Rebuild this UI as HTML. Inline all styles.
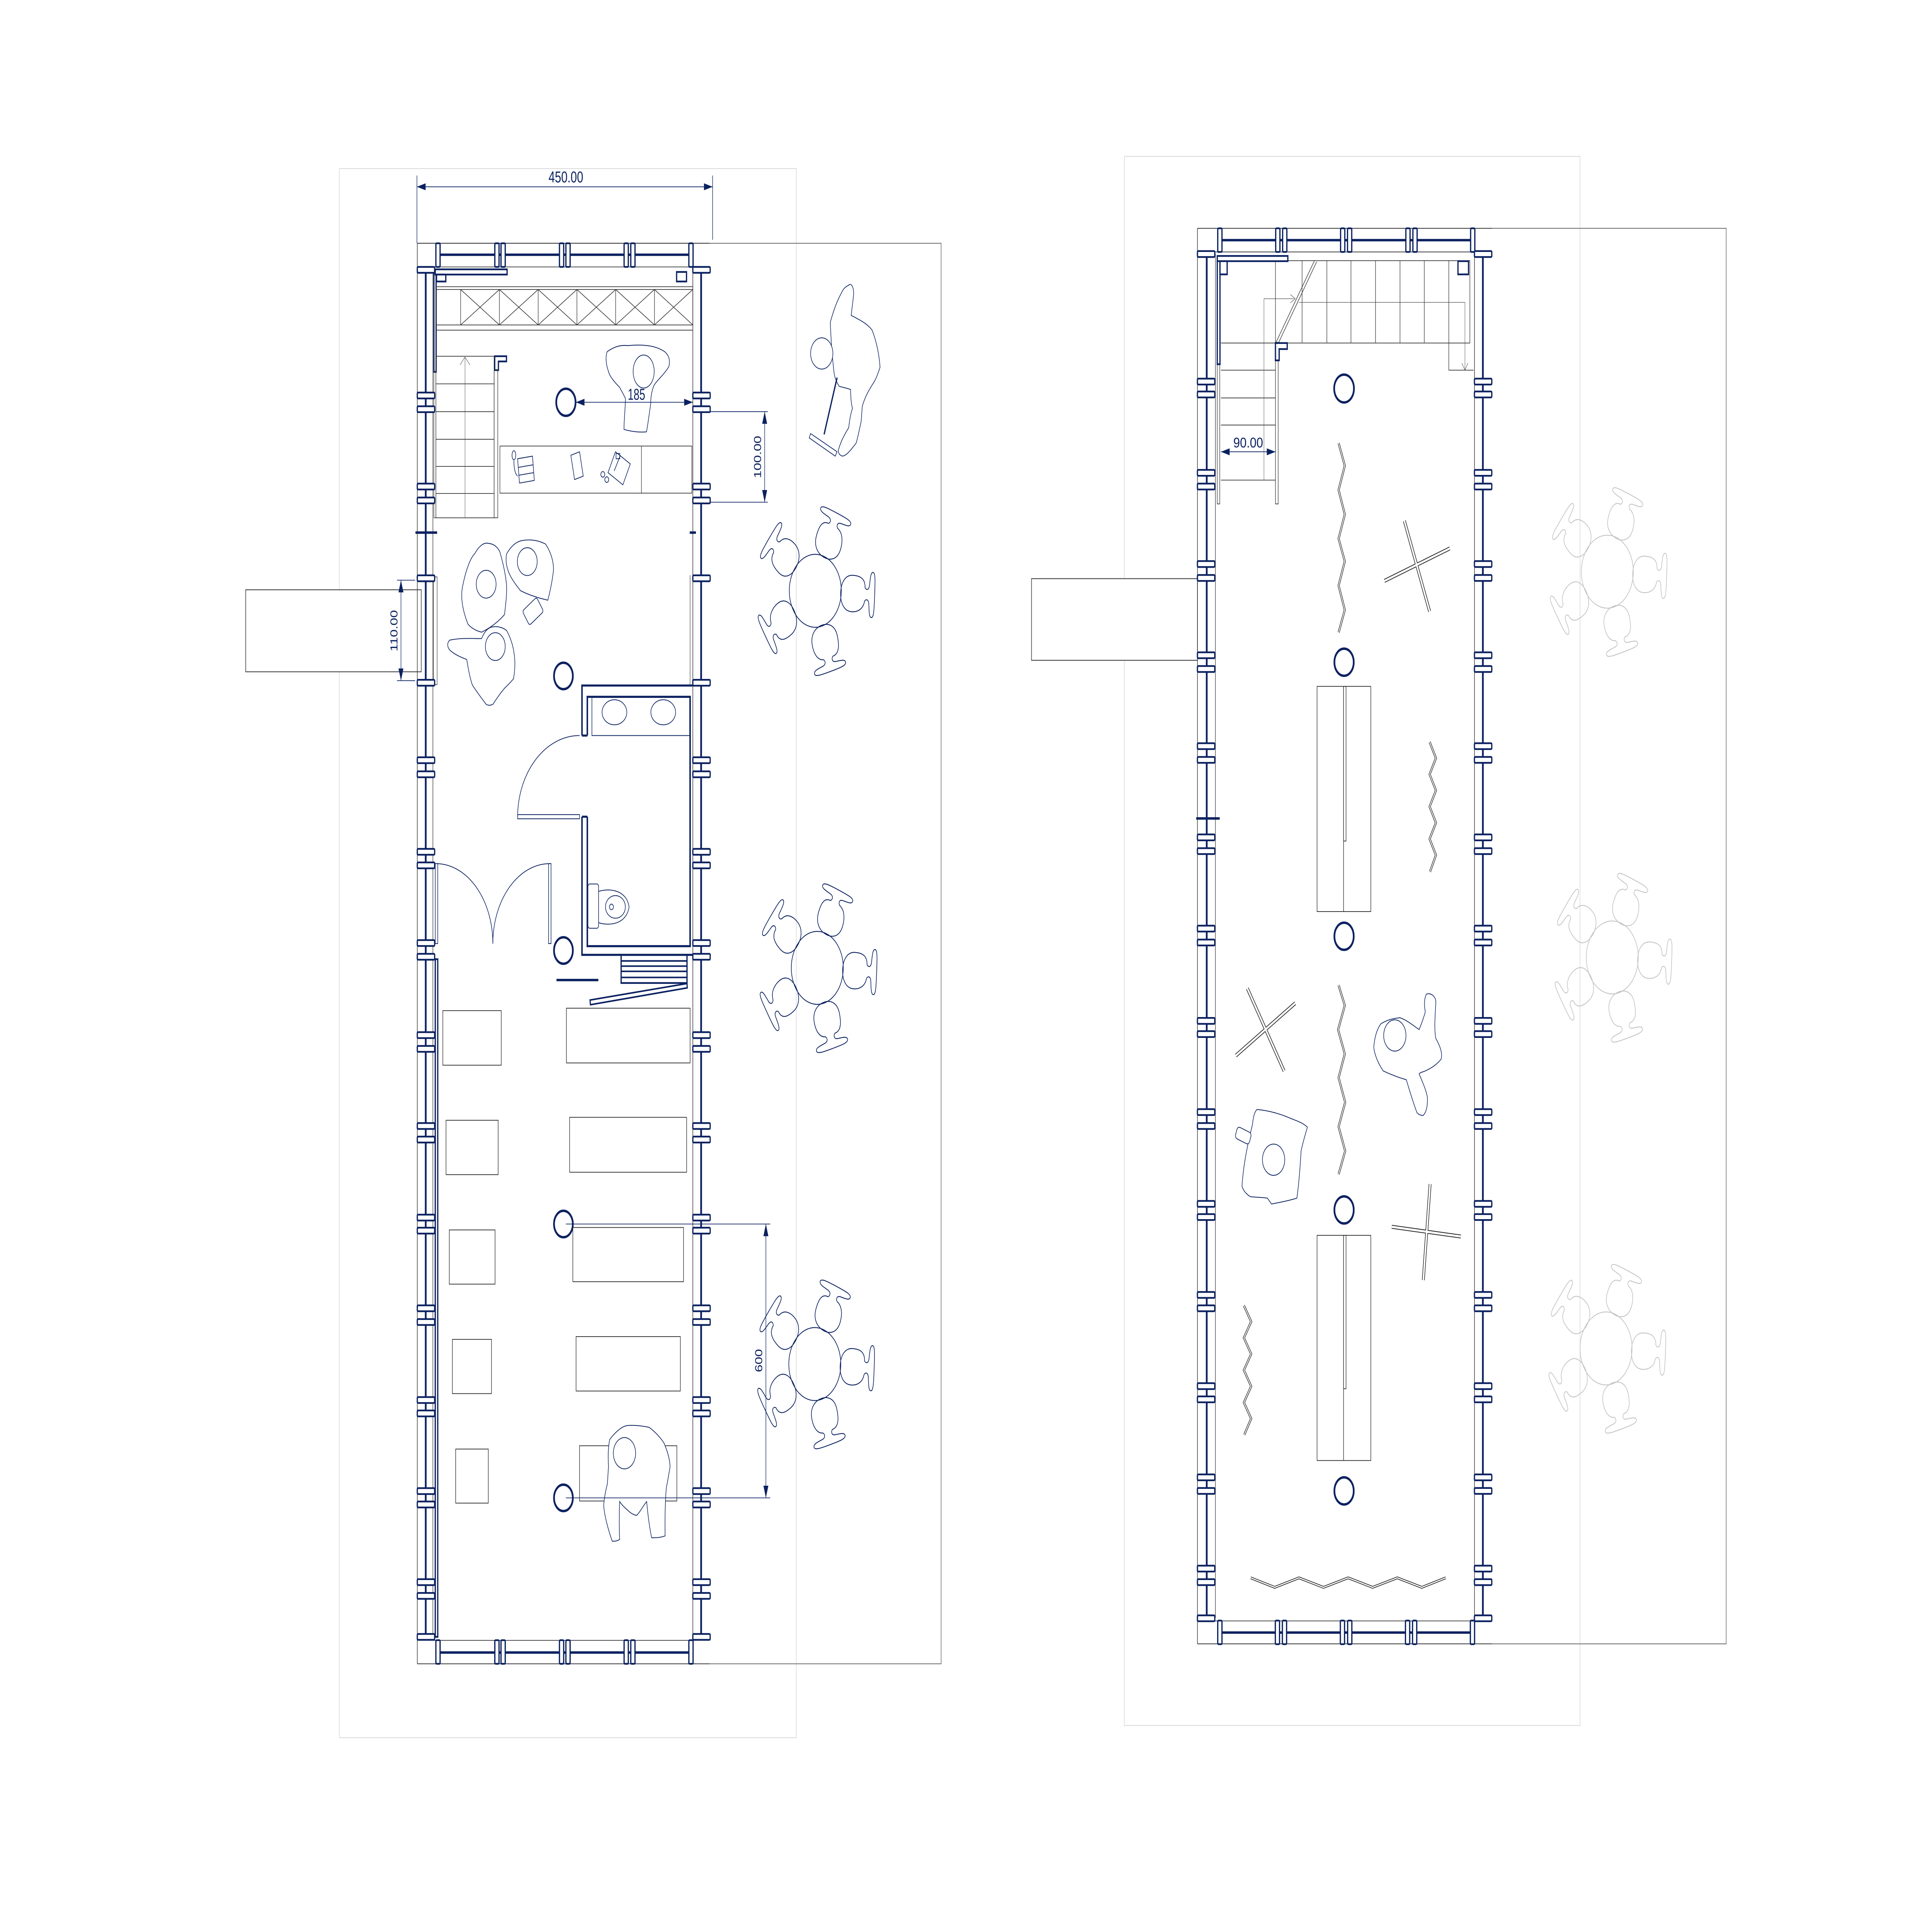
<!DOCTYPE html>
<html><head><meta charset="utf-8"><style>html,body{margin:0;padding:0;background:#fff;width:100%;height:100%;overflow:hidden}svg{display:block;position:absolute;left:0;top:0;width:100vw;height:100vh}</style></head><body>
<svg xmlns="http://www.w3.org/2000/svg" xmlns:xlink="http://www.w3.org/1999/xlink" viewBox="0 0 1560.2 1103.2" preserveAspectRatio="none">
<defs>
<rect id="hp" x="0" y="-1.7" width="14" height="3.4" rx="0.6" fill="#fff" stroke="#0b2160" stroke-width="1"/>
<rect id="vp" x="0" y="0" width="3.4" height="13.6" rx="0.6" fill="#fff" stroke="#0b2160" stroke-width="1"/>
<g id="chair" fill="none">
<path d="M-4,-9 C-10,-9 -10.5,-3 -10.5,1 C-10.5,8 -5,10.5 0,10.5 C5,10.5 10.5,8 10.5,1 C10.5,-3 9,-8 4,-9 C2.5,-10 2.5,-12 5,-12.5 C9,-13 13,-13 13,-15 C13,-17 8,-17 0,-17 C-8,-17 -13,-17 -13,-15 C-13,-13 -9,-13 -5,-12.5 C-2.5,-12 -2.5,-10 -4,-9 Z"/>
</g>
<g id="chairset" fill="none">
<circle cx="0" cy="0" r="21"/>
<use xlink:href="#chair" transform="rotate(21) translate(0,-31)"/>
<use xlink:href="#chair" transform="rotate(93) translate(0,-31)"/>
<use xlink:href="#chair" transform="rotate(165) translate(0,-31)"/>
<use xlink:href="#chair" transform="rotate(237) translate(0,-31)"/>
<use xlink:href="#chair" transform="rotate(309) translate(0,-31)"/>
</g>
</defs>
<rect width="1560.2" height="1103.2" fill="#fff"/>

<g fill="none">
<rect x="274" y="97" width="369" height="903" stroke="#dcdcdc" stroke-width="0.5"/>
<polyline points="573,140 760,140 760,957.5 573,957.5" stroke="#777" stroke-width="0.5"/>
<rect x="198.4" y="339.4" width="141.8" height="47.2" stroke="#444" stroke-width="0.5" fill="#fff"/>
</g>
<g fill="none">
<line x1="337" y1="140" x2="573" y2="140" stroke="#333" stroke-width="0.45"/>
<line x1="337" y1="140" x2="337" y2="957.5" stroke="#333" stroke-width="0.45"/>
<line x1="337" y1="957.5" x2="573" y2="957.5" stroke="#333" stroke-width="0.45"/>
<line x1="352" y1="146.6" x2="558" y2="146.6" stroke="#0b2160" stroke-width="1.4"/>
<line x1="352" y1="951" x2="558" y2="951" stroke="#0b2160" stroke-width="1.4"/>
<line x1="337" y1="153.6" x2="573" y2="153.6" stroke="#333" stroke-width="0.4"/>
<line x1="337" y1="944" x2="573" y2="944" stroke="#333" stroke-width="0.4"/>
<line x1="343.8" y1="155" x2="343.8" y2="942" stroke="#0b2160" stroke-width="1.4"/>
<line x1="349.6" y1="155" x2="349.6" y2="942" stroke="#333" stroke-width="0.4"/>
<line x1="559.5" y1="155" x2="559.5" y2="942" stroke="#333" stroke-width="0.45"/>
<line x1="566.2" y1="155" x2="566.2" y2="942" stroke="#0b2160" stroke-width="1.4"/>
<rect x="350.4" y="157" width="1.8" height="57" stroke="#0b2160" stroke-width="1"/>
<rect x="350.4" y="214" width="1.6" height="84" stroke="#333" stroke-width="0.35"/>
<rect x="351.5" y="552" width="2" height="390" stroke="#0b2160" stroke-width="1"/>
<rect x="350" y="332" width="3" height="62" stroke="#333" stroke-width="0.35"/>
<line x1="557.3" y1="331" x2="557.3" y2="394" stroke="#333" stroke-width="0.35"/>
<line x1="335.5" y1="306.5" x2="353" y2="306.5" stroke="#0b2160" stroke-width="1.4"/>
<line x1="557" y1="306.5" x2="562" y2="306.5" stroke="#0b2160" stroke-width="1.4"/>
</g>
<g>
<use xlink:href="#vp" x="352" y="140"/><use xlink:href="#vp" x="399.6" y="140"/><use xlink:href="#vp" x="404.6" y="140"/><use xlink:href="#vp" x="451.8" y="140"/><use xlink:href="#vp" x="457" y="140"/><use xlink:href="#vp" x="504" y="140"/><use xlink:href="#vp" x="509.4" y="140"/><use xlink:href="#vp" x="556.3" y="140"/>
<use xlink:href="#vp" x="352" y="943.9"/><use xlink:href="#vp" x="399.6" y="943.9"/><use xlink:href="#vp" x="404.6" y="943.9"/><use xlink:href="#vp" x="451.8" y="943.9"/><use xlink:href="#vp" x="457" y="943.9"/><use xlink:href="#vp" x="504" y="943.9"/><use xlink:href="#vp" x="509.4" y="943.9"/><use xlink:href="#vp" x="556.3" y="943.9"/>
</g>
<g>
<use xlink:href="#hp" x="337" y="155.3"/><use xlink:href="#hp" x="559.5" y="155.3"/>
<use xlink:href="#hp" x="337" y="942"/><use xlink:href="#hp" x="559.5" y="942"/>
<use xlink:href="#hp" x="337" y="227.6"/><use xlink:href="#hp" x="337" y="235.5"/><use xlink:href="#hp" x="337" y="280"/><use xlink:href="#hp" x="337" y="288"/><use xlink:href="#hp" x="337" y="332.8"/><use xlink:href="#hp" x="337" y="392.9"/><use xlink:href="#hp" x="337" y="437.5"/><use xlink:href="#hp" x="337" y="445.6"/><use xlink:href="#hp" x="337" y="490.2"/><use xlink:href="#hp" x="337" y="498"/><use xlink:href="#hp" x="337" y="542.7"/><use xlink:href="#hp" x="337" y="550.6"/><use xlink:href="#hp" x="337" y="595.7"/><use xlink:href="#hp" x="337" y="603.6"/><use xlink:href="#hp" x="337" y="648"/><use xlink:href="#hp" x="337" y="655.8"/><use xlink:href="#hp" x="337" y="700.7"/><use xlink:href="#hp" x="337" y="708.2"/><use xlink:href="#hp" x="337" y="752.9"/><use xlink:href="#hp" x="337" y="760.8"/><use xlink:href="#hp" x="337" y="805.7"/><use xlink:href="#hp" x="337" y="813.4"/><use xlink:href="#hp" x="337" y="858.1"/><use xlink:href="#hp" x="337" y="865.8"/><use xlink:href="#hp" x="337" y="910.5"/><use xlink:href="#hp" x="337" y="918.4"/>
<use xlink:href="#hp" x="559.5" y="227.6"/><use xlink:href="#hp" x="559.5" y="235.5"/><use xlink:href="#hp" x="559.5" y="280"/><use xlink:href="#hp" x="559.5" y="288"/><use xlink:href="#hp" x="559.5" y="332.8"/><use xlink:href="#hp" x="559.5" y="392.9"/><use xlink:href="#hp" x="559.5" y="437.5"/><use xlink:href="#hp" x="559.5" y="445.6"/><use xlink:href="#hp" x="559.5" y="490.2"/><use xlink:href="#hp" x="559.5" y="498"/><use xlink:href="#hp" x="559.5" y="542.7"/><use xlink:href="#hp" x="559.5" y="550.6"/><use xlink:href="#hp" x="559.5" y="595.7"/><use xlink:href="#hp" x="559.5" y="603.6"/><use xlink:href="#hp" x="559.5" y="648"/><use xlink:href="#hp" x="559.5" y="655.8"/><use xlink:href="#hp" x="559.5" y="700.7"/><use xlink:href="#hp" x="559.5" y="708.2"/><use xlink:href="#hp" x="559.5" y="752.9"/><use xlink:href="#hp" x="559.5" y="760.8"/><use xlink:href="#hp" x="559.5" y="805.7"/><use xlink:href="#hp" x="559.5" y="813.4"/><use xlink:href="#hp" x="559.5" y="858.1"/><use xlink:href="#hp" x="559.5" y="865.8"/><use xlink:href="#hp" x="559.5" y="910.5"/><use xlink:href="#hp" x="559.5" y="918.4"/>
</g>
<g fill="#fff" stroke="#0b2160" stroke-width="1">
<rect x="351.5" y="155" width="58" height="3"/>
<rect x="352.5" y="158" width="7.5" height="4"/>
<rect x="546.4" y="156.5" width="8" height="5.5"/>
<path d="M399.5,205 h9.5 v3 h-6.5 v5 h-3 z"/>
</g>
<g fill="none" stroke="#333" stroke-width="0.4">
<line x1="352" y1="165" x2="559.5" y2="165"/>
<rect x="352" y="166.6" width="207.5" height="20.4"/>
<line x1="352" y1="190" x2="559.5" y2="190"/>
<path d="M372,166.6 V187 M403.3,166.6 V187 M434.6,166.6 V187 M465.9,166.6 V187 M497.2,166.6 V187 M528.5,166.6 V187"/>
<path d="M372,166.6 L403.3,187 M372,187 L403.3,166.6 M403.3,166.6 L434.6,187 M403.3,187 L434.6,166.6 M434.6,166.6 L465.9,187 M434.6,187 L465.9,166.6 M465.9,166.6 L497.2,187 M465.9,187 L497.2,166.6 M497.2,166.6 L528.5,187 M497.2,187 L528.5,166.6 M528.5,166.6 L559.5,187 M528.5,187 L559.5,166.6"/>
<rect x="352" y="205" width="47" height="93"/>
<path d="M352,220.9 H399 M352,236.9 H399 M352,252.8 H399 M352,268.4 H399 M352,284 H399"/>
<line x1="375.5" y1="205.5" x2="375.5" y2="298" stroke-width="0.25"/>
<path d="M371.5,210 L375.5,205.5 L379.5,210" stroke-width="0.25"/>
<rect x="399" y="213" width="3" height="85"/>
<rect x="403.7" y="256.7" width="155" height="27.1"/>
<line x1="518" y1="256.7" x2="518" y2="283.8"/>
</g>
<g fill="none" stroke="#0b2160" stroke-width="0.45">
<path d="M418,264 l12,-1.5 1.5,14 -12,1.5 z M418.5,269 l12,-1.5 M419,273.5 l12,-1.5"/>
<ellipse cx="415" cy="262" rx="1.5" ry="2.6"/>
<path d="M415,265 q0,7 3,9"/>
<path d="M461,262 l7,-2 3,14 -7,2 z"/>
<path d="M491,272 l6,-12 12,7 -6,12 z M496,271 l5,-9"/>
<rect x="497.5" y="261" width="3" height="3"/>
<circle cx="486.8" cy="273" r="1.6"/><circle cx="490" cy="276" r="1.6"/>
</g>
<g fill="none" stroke="#0b2160" stroke-width="1.4">
<circle cx="457" cy="231.5" r="7.8"/>
<circle cx="455" cy="389" r="7.6"/>
<circle cx="455" cy="547" r="7.6"/>
<circle cx="455" cy="704.4" r="7.6"/>
<circle cx="455" cy="862" r="7.6"/>
</g>
<g fill="none" stroke="#0b2160" stroke-width="1.2">
<path d="M470,423.3 V394.5 H559.5"/>
<path d="M470,470 V549.5 H559.5"/>
<path d="M474.3,423.3 V401 H557.3 V544.5 H474.3 V470"/>
<path d="M470,423.3 h4.3 M470,470 h4.3"/>
</g>
<g fill="none" stroke="#0b2160" stroke-width="0.45">
<rect x="478" y="401" width="79" height="22.3"/>
<ellipse cx="496.2" cy="409.9" rx="10" ry="7.2"/>
<ellipse cx="535.6" cy="409.9" rx="10" ry="7.2"/>
<path d="M418,470 A50,47 0 0 1 468,423.3"/>
<rect x="418" y="468.8" width="50" height="2.4"/>
<rect x="474.8" y="508.7" width="8.6" height="25.5" rx="1.5"/>
<path d="M483.4,513 C492,511 506,512 508,521.9 C506,532 492,533 483.4,531"/>
<ellipse cx="497" cy="521.9" rx="8" ry="6.5"/>
<circle cx="493.8" cy="521.9" r="1.6"/>
<rect x="351.5" y="497" width="2" height="46"/>
<rect x="443" y="497" width="2" height="46"/>
<path d="M352,497 A46,46 0 0 1 398,543"/>
<path d="M444,497 A46,46 0 0 0 398,543"/>
</g>
<g fill="none" stroke="#0b2160">
<rect x="501.6" y="549.5" width="53.2" height="16.2" stroke-width="1"/>
<path d="M501.6,553 H554.8 M501.6,556 H554.8 M501.6,559 H554.8 M501.6,562.5 H554.8" stroke-width="0.9"/>
<path d="M476.5,575.5 L554.8,566 L555,568.5 L476.8,578.2 Z" stroke-width="0.9"/>
<line x1="449.4" y1="564" x2="483.2" y2="564" stroke-width="1.4"/>
</g>
<g fill="none" stroke="#222" stroke-width="0.4">
<rect x="357.6" y="581.6" width="47.2" height="31.4"/>
<rect x="360.2" y="644.7" width="42.1" height="31.3"/>
<rect x="362.8" y="707.8" width="37" height="31.2"/>
<rect x="365.3" y="770.8" width="31.6" height="31.2"/>
<rect x="368" y="833.9" width="26.3" height="31.1"/>
<rect x="457.4" y="580.2" width="99.9" height="31.5"/>
<rect x="460" y="643" width="94.5" height="31.6"/>
<rect x="462.6" y="706.4" width="89.4" height="31.2"/>
<rect x="465.2" y="769.2" width="84.2" height="31.3"/>
<rect x="468" y="832" width="78.6" height="31.8"/>
</g>
<g fill="#fff" stroke="#0b2160" stroke-width="0.45">
<path d="M490.3,202.4 C497,199 502,198.5 507.3,198.9 C520,198 530,199 536.8,202.4 C541,205 541,208 540.2,210.9 C536,216 530,219 527.8,222.3 C526,226 525.5,229 525.5,232.2 C524,240 523,245 522.1,248.5 C515,249 508,248 503.9,247.1 C504,240 505,235 505.1,229.4 C503,226 501,224 500.5,223 C495,219 492,216 491.4,213.8 C489,209 489,205 490.3,202.4 Z"/>
<ellipse cx="519.8" cy="213.8" rx="8.5" ry="9.5"/>
<path d="M373.2,338.9 C376,328 380,321 383.4,318.6 C387,314 391,312 394.4,312.7 C399,313 402,315 403.7,317.7 C407,326 409,333 409.2,338.9 C409,345 408,350 407.4,353.7 C401,359 394,362 388.9,363.8 C384,363 380,361 377.9,359.2 C374,352 372,345 373.2,338.9 Z"/>
<circle cx="392.6" cy="336.2" r="8"/>
<path d="M409.2,318.6 C413,314 417,312 420.3,311.3 C428,310 435,311 440.6,313.1 C445,318 447,323 447,327.9 C446,335 444,341 442.4,345.4 C434,344 426,342 420.3,339.9 C416,336 413,333 411,329.7 C409,326 408,322 409.2,318.6 Z"/>
<circle cx="425.8" cy="323.2" r="8"/>
<rect x="423.4" y="346.8" width="14" height="10" rx="1.5" transform="rotate(-35 430.4 351.8)"/>
<path d="M363.1,368.4 C372,367 381,367.5 388.9,367.5 C391,364 393,362 396.3,361 C401,360 406,361 409.2,362.9 C413,368 415,373 415.7,379.5 C416,384 415.5,387 414.7,390.6 C412,393 409,395 407.4,396.1 C404,399 401,402 398.1,405.3 C396,406 394,406 392.6,405.3 C388,401 384,397 381.5,394.3 C379,389 378,384 376.9,379.5 C371,378 366,376 363.1,374 C361,372 361,370 363.1,368.4 Z"/>
<circle cx="400" cy="372.1" r="8"/>
<path d="M492.4,828.4 C497,824 502,821 506.3,820.4 C512,820 518,820.5 524.2,821.4 C529,824 533,827 536.1,830.3 C539,835 541,840 541.1,844.2 C540,849 539,853 538.1,856.2 C537,865 537,875 537.1,883.9 C533,885 529,885 526.2,884.9 C524,877 523,870 522.2,864.1 C519,867 517,870 514.3,872 C512,872 510,871 508.3,870 C505,868 502,866 500.4,864.1 C500,871 500,879 500.4,885.9 C498,887 496,887 494.4,886.9 C491,880 488,872 487.5,866.1 C488,862 489,858 490.4,854.2 C491,850 491,847 491.4,844.2 C491,838 491,833 492.4,828.4 Z"/>
<circle cx="504.3" cy="836.3" r="9"/>
<path d="M685.4,164.1 C687,163 689,164 689.4,168.6 C689,173 688,177 687.4,181.5 C694,184 700,186 704.3,190 C708,197 710,204 710.7,211.3 C709,215 708,217 706.3,219.3 C702,224 698,229 696.3,234.1 C696,237 695.8,240 695.3,243.1 C694,247 693,251 691.4,255 C687,259 684,262 680.4,262.5 C678,262 677,261 677,259 C679,254 682,250 685.4,246.1 C686,242 687,238 688.4,235.1 C687,231 687,227 686.9,224.2 C683,223 680,223 677.5,222.2 C675,219 674,217 673.5,214.3 C672,205 671,195 670.5,185.5 C673,179 676,173 679.5,168.6 C681,166 683,165 685.4,164.1 Z"/>
<circle cx="663.6" cy="203.4" r="9"/>
<line x1="676" y1="217.3" x2="665.5" y2="250" stroke-width="1"/>
<path d="M654.6,249.5 L676,260 L674.5,262.5 L653.5,252 Z"/>
</g>
<g stroke="#0b2160" stroke-width="0.5">
<use xlink:href="#chairset" x="658.4" y="340"/>
<use xlink:href="#chairset" x="660" y="557"/>
<use xlink:href="#chairset" x="658" y="785"/>
</g>
<g stroke="#0b2160" stroke-width="0.4" fill="none">
<line x1="336.7" y1="101" x2="336.7" y2="140"/>
<line x1="575.5" y1="101" x2="575.5" y2="138"/>
<line x1="336.7" y1="107.5" x2="575.5" y2="107.5"/>
<line x1="465" y1="231.5" x2="559.5" y2="231.5"/>
<line x1="573" y1="236.9" x2="620" y2="236.9"/>
<line x1="573" y1="289" x2="620" y2="289"/>
<line x1="617.5" y1="236.9" x2="617.5" y2="289"/>
<line x1="457" y1="704.4" x2="622" y2="704.4"/>
<line x1="457" y1="862" x2="622" y2="862"/>
<line x1="618.5" y1="704.4" x2="618.5" y2="862"/>
<line x1="320.6" y1="333.9" x2="335.2" y2="333.9"/>
<line x1="320.6" y1="391.7" x2="335.2" y2="391.7"/>
<line x1="323.8" y1="333.9" x2="323.8" y2="391.7"/>
</g>
<g fill="#0b2160">
<path d="M336.7,107.5 l7,-2 v4 z M575.5,107.5 l-7,-2 v4 z"/>
<path d="M465,231.5 l7,-2 v4 z M559.5,231.5 l-7,-2 v4 z"/>
<path d="M617.5,236.9 l-2,7 h4 z M617.5,289 l-2,-7 h4 z"/>
<path d="M618.5,704.4 l-2,7 h4 z M618.5,862 l-2,-7 h4 z"/>
<path d="M323.8,333.9 l-2,7 h4 z M323.8,391.7 l-2,-7 h4 z"/>
</g>
<g fill="#0b2160" font-family="'Liberation Sans', sans-serif" font-size="9">
<text x="457" y="105" text-anchor="middle" textLength="28" lengthAdjust="spacingAndGlyphs">450.00</text>
<text x="514" y="230" text-anchor="middle" textLength="14" lengthAdjust="spacingAndGlyphs">185</text>
<text transform="translate(614.5,263) rotate(-90)" text-anchor="middle" font-size="8">100.00</text>
<text transform="translate(615.5,783) rotate(-90)" text-anchor="middle" font-size="8">600</text>
<text transform="translate(321,363) rotate(-90)" text-anchor="middle" font-size="8">110.00</text>
</g>

<g fill="none">
<rect x="908" y="90" width="368" height="903" stroke="#dcdcdc" stroke-width="0.5"/>
<polyline points="1205,131.4 1394,131.4 1394,946 1205,946" stroke="#777" stroke-width="0.5"/>
<rect x="833" y="333" width="134" height="47" stroke="#444" stroke-width="0.5" fill="#fff"/>
</g>
<g fill="none">
<line x1="967" y1="131.4" x2="1205" y2="131.4" stroke="#333" stroke-width="0.45"/>
<line x1="967" y1="131.4" x2="967" y2="946" stroke="#333" stroke-width="0.45"/>
<line x1="967" y1="946" x2="1205" y2="946" stroke="#333" stroke-width="0.45"/>
<line x1="983" y1="138.2" x2="1188" y2="138.2" stroke="#0b2160" stroke-width="1.4"/>
<line x1="983" y1="939.5" x2="1188" y2="939.5" stroke="#0b2160" stroke-width="1.4"/>
<line x1="967" y1="145" x2="1205" y2="145" stroke="#333" stroke-width="0.4"/>
<line x1="967" y1="932.8" x2="1205" y2="932.8" stroke="#333" stroke-width="0.4"/>
<line x1="974.5" y1="146" x2="974.5" y2="931" stroke="#0b2160" stroke-width="1.4"/>
<line x1="981.5" y1="146" x2="981.5" y2="931" stroke="#333" stroke-width="0.4"/>
<line x1="1190.7" y1="146" x2="1190.7" y2="931" stroke="#333" stroke-width="0.45"/>
<line x1="1197.5" y1="146" x2="1197.5" y2="931" stroke="#0b2160" stroke-width="1.4"/>
<line x1="966" y1="471" x2="985" y2="471" stroke="#0b2160" stroke-width="1.4"/>
</g>
<g>
<use xlink:href="#vp" x="983.4" y="131.4"/><use xlink:href="#vp" x="1030.2" y="131.4"/><use xlink:href="#vp" x="1035.8" y="131.4"/><use xlink:href="#vp" x="1082.6" y="131.4"/><use xlink:href="#vp" x="1088.2" y="131.4"/><use xlink:href="#vp" x="1135.3" y="131.4"/><use xlink:href="#vp" x="1141" y="131.4"/><use xlink:href="#vp" x="1187.6" y="131.4"/>
<use xlink:href="#vp" x="1029.9" y="932.6"/><use xlink:href="#vp" x="1035.6" y="932.6"/><use xlink:href="#vp" x="1082.4" y="932.6"/><use xlink:href="#vp" x="1088.3" y="932.6"/><use xlink:href="#vp" x="1135" y="932.6"/><use xlink:href="#vp" x="1140.7" y="932.6"/><use xlink:href="#vp" x="1187.4" y="932.6"/><use xlink:href="#vp" x="983.4" y="932.6"/>
<use xlink:href="#hp" x="967" y="146.2"/><use xlink:href="#hp" x="1190.7" y="146.2"/>
<use xlink:href="#hp" x="967" y="931.3"/><use xlink:href="#hp" x="1190.7" y="931.3"/>
<use xlink:href="#hp" x="967" y="219.6"/><use xlink:href="#hp" x="967" y="227"/><use xlink:href="#hp" x="967" y="272.1"/><use xlink:href="#hp" x="967" y="280"/><use xlink:href="#hp" x="967" y="324.6"/><use xlink:href="#hp" x="967" y="332.6"/><use xlink:href="#hp" x="967" y="377.1"/><use xlink:href="#hp" x="967" y="385"/><use xlink:href="#hp" x="967" y="429.4"/><use xlink:href="#hp" x="967" y="437.3"/><use xlink:href="#hp" x="967" y="481.9"/><use xlink:href="#hp" x="967" y="489.8"/><use xlink:href="#hp" x="967" y="534.4"/><use xlink:href="#hp" x="967" y="542.4"/><use xlink:href="#hp" x="967" y="587.5"/><use xlink:href="#hp" x="967" y="595.1"/><use xlink:href="#hp" x="967" y="640"/><use xlink:href="#hp" x="967" y="648"/><use xlink:href="#hp" x="967" y="692.8"/><use xlink:href="#hp" x="967" y="700.4"/><use xlink:href="#hp" x="967" y="745.2"/><use xlink:href="#hp" x="967" y="752.9"/><use xlink:href="#hp" x="967" y="797.7"/><use xlink:href="#hp" x="967" y="805.3"/><use xlink:href="#hp" x="967" y="850.2"/><use xlink:href="#hp" x="967" y="858"/><use xlink:href="#hp" x="967" y="902.7"/><use xlink:href="#hp" x="967" y="910.5"/>
<use xlink:href="#hp" x="1190.7" y="219.6"/><use xlink:href="#hp" x="1190.7" y="227"/><use xlink:href="#hp" x="1190.7" y="272.1"/><use xlink:href="#hp" x="1190.7" y="280"/><use xlink:href="#hp" x="1190.7" y="324.6"/><use xlink:href="#hp" x="1190.7" y="332.6"/><use xlink:href="#hp" x="1190.7" y="377.1"/><use xlink:href="#hp" x="1190.7" y="385"/><use xlink:href="#hp" x="1190.7" y="429.4"/><use xlink:href="#hp" x="1190.7" y="437.3"/><use xlink:href="#hp" x="1190.7" y="481.9"/><use xlink:href="#hp" x="1190.7" y="489.8"/><use xlink:href="#hp" x="1190.7" y="534.4"/><use xlink:href="#hp" x="1190.7" y="542.4"/><use xlink:href="#hp" x="1190.7" y="587.5"/><use xlink:href="#hp" x="1190.7" y="595.1"/><use xlink:href="#hp" x="1190.7" y="640"/><use xlink:href="#hp" x="1190.7" y="648"/><use xlink:href="#hp" x="1190.7" y="692.8"/><use xlink:href="#hp" x="1190.7" y="700.4"/><use xlink:href="#hp" x="1190.7" y="745.2"/><use xlink:href="#hp" x="1190.7" y="752.9"/><use xlink:href="#hp" x="1190.7" y="797.7"/><use xlink:href="#hp" x="1190.7" y="805.3"/><use xlink:href="#hp" x="1190.7" y="850.2"/><use xlink:href="#hp" x="1190.7" y="858"/><use xlink:href="#hp" x="1190.7" y="902.7"/><use xlink:href="#hp" x="1190.7" y="910.5"/>
</g>
<g fill="none" stroke="#333" stroke-width="0.4">
<rect x="1030" y="150" width="157" height="47.4"/>
<path d="M1051.5,150 V197.4 M1071.5,150 V197.4 M1091,150 V197.4 M1110.8,150 V197.4 M1130.6,150 V197.4 M1150.2,150 V197.4 M1170,150 V213 H1190"/>
<path d="M986,197.4 H1030 M986,213 H1030 M986,229 H1030 M986,244.6 H1030 M986,276.3 H1030"/>
<path d="M1020.7,276.3 V171.9 H1045" stroke-width="0.25"/>
<path d="M1042,169.5 L1046,171.9 L1042,174.3" stroke-width="0.25"/>
<path d="M1049,174 H1183 V213" stroke-width="0.25"/>
<path d="M1180.5,209 L1183,213 L1185.5,209" stroke-width="0.25"/>
<rect x="1030" y="197" width="2.2" height="93"/>
<rect x="983" y="209.6" width="2" height="80.4"/>
<path d="M1061.5,150 L1030.2,197.4 M1063.3,150.6 L1032,198"/>
</g>
<g fill="#fff" stroke="#0b2160" stroke-width="1">
<rect x="983" y="147.3" width="57" height="3"/>
<rect x="983" y="150.3" width="2.2" height="59.3"/>
<rect x="985.2" y="150.3" width="5.8" height="7.6"/>
<rect x="1177.4" y="150.3" width="8.5" height="7.6"/>
<path d="M1030,197.4 h9.5 v3.5 h-6.5 v6.5 h-3 z"/>
</g>
<g stroke="#0b2160" stroke-width="0.4" fill="none">
<line x1="986" y1="260" x2="1030" y2="260"/>
</g>
<path fill="#0b2160" d="M986,260 l7,-2 v4 z M1030,260 l-7,-2 v4 z"/>
<text x="1008" y="257.5" fill="#0b2160" font-family="'Liberation Sans', sans-serif" font-size="8" text-anchor="middle" textLength="24" lengthAdjust="spacingAndGlyphs">90.00</text>
<g fill="none" stroke="#0b2160" stroke-width="1.4">
<circle cx="1085.4" cy="223.6" r="8"/>
<circle cx="1085.4" cy="381.1" r="7.8"/>
<circle cx="1085.4" cy="538.8" r="7.8"/>
<circle cx="1085.4" cy="696.3" r="7.8"/>
<circle cx="1085.4" cy="858" r="7.8"/>
</g>
<g fill="none" stroke="#222" stroke-width="0.4">
<rect x="1063.6" y="395" width="43.4" height="129.6"/>
<line x1="1085" y1="395" x2="1085" y2="524.6"/>
<rect x="1085" y="395" width="2" height="89"/>
<rect x="1063.6" y="710.9" width="43.4" height="129.6"/>
<line x1="1085" y1="710.9" x2="1085" y2="840.5"/>
<rect x="1085" y="710.9" width="2" height="88.3"/>
</g>
<g fill="none" stroke="#222" stroke-width="1.5" stroke-linejoin="miter">
<polyline points="1081,255 1086,268 1081,282 1086,296 1081,310 1086,323 1081,337 1086,351 1081,364"/>
<polyline points="1081,567 1086,578.6 1080.6,592.6 1086,606.5 1081,620.2 1086.3,634.3 1081,648.4 1086.3,662.4 1081,675.8"/>
<polyline points="1154.5,427 1159.6,436.3 1154.5,445.6 1159.6,454.9 1154.5,464.2 1159.6,473.5 1154.5,482.8 1159.6,492.1 1154.8,501.7"/>
<polyline points="1004.5,751.3 1010.4,760.6 1004.5,769.9 1010.4,779.2 1004.5,788.5 1010.4,797.8 1004.5,807.1 1010.4,816.4 1004.8,825.7"/>
<polyline points="1010,908 1029.4,913.5 1049,908 1068.8,913.5 1088.7,908 1108.5,913.5 1128.4,908 1148.2,913.5 1167.5,908"/>
<path d="M1134.1,299.7 L1154.5,351.9 M1118,334.3 L1170.8,315.6" stroke-width="2.2"/>
<path d="M1007.3,568.8 L1037,616.4 M998,607.5 L1046,577.3" stroke-width="2.2"/>
<path d="M1154.9,681.4 L1149.4,736.7 M1123.9,706 L1179.7,711.6" stroke-width="2.2"/>
</g>
<g fill="none" stroke="#fff" stroke-width="0.7">
<polyline points="1081,255 1086,268 1081,282 1086,296 1081,310 1086,323 1081,337 1086,351 1081,364"/>
<polyline points="1081,567 1086,578.6 1080.6,592.6 1086,606.5 1081,620.2 1086.3,634.3 1081,648.4 1086.3,662.4 1081,675.8"/>
<polyline points="1154.5,427 1159.6,436.3 1154.5,445.6 1159.6,454.9 1154.5,464.2 1159.6,473.5 1154.5,482.8 1159.6,492.1 1154.8,501.7"/>
<polyline points="1004.5,751.3 1010.4,760.6 1004.5,769.9 1010.4,779.2 1004.5,788.5 1010.4,797.8 1004.5,807.1 1010.4,816.4 1004.8,825.7"/>
<polyline points="1010,908 1029.4,913.5 1049,908 1068.8,913.5 1088.7,908 1108.5,913.5 1128.4,908 1148.2,913.5 1167.5,908"/>
<path d="M1134.1,299.7 L1154.5,351.9 M1118,334.3 L1170.8,315.6" stroke-width="1.3"/>
<path d="M1007.3,568.8 L1037,616.4 M998,607.5 L1046,577.3" stroke-width="1.3"/>
<path d="M1154.9,681.4 L1149.4,736.7 M1123.9,706 L1179.7,711.6" stroke-width="1.3"/>
</g>
<g fill="#fff" stroke="#0b2160" stroke-width="0.45">
<path d="M1151.9,572.1 C1156,571 1160,574 1159.5,577.2 C1159,584 1158,592 1159.5,597.6 C1163,602 1165,606 1163.8,609.5 C1160,613 1155,615 1151,616.3 C1149,617 1147,617 1146,618 C1149,623 1152,628 1152.7,631.6 C1153,636 1152,640 1149.3,641.9 C1147,642 1145,641 1144.2,640.2 C1141,634 1138,627 1135.7,621.4 C1129,620 1122,618 1117,616.3 C1113,612 1110,607 1109.4,602.7 C1110,597 1112,592 1115.3,589.1 C1120,587 1125,586 1130.6,585.7 C1136,587 1141,590 1146,592.5 C1148,589 1150,585 1151,582.3 C1150,578 1150,575 1151.9,572.1 Z"/>
<circle cx="1126.4" cy="595.9" r="9"/>
<path d="M1003,682.7 C1004,670 1008,657 1011.5,647 C1012,643 1013,640 1015,638.5 C1024,639 1034,641 1042.2,643.6 C1047,645 1052,646 1055.8,648.7 C1054,653 1052,658 1050.7,662.3 C1050,671 1049,681 1047.3,689.5 C1041,691 1033,692 1026.8,692.9 C1025,691 1024,690 1023.4,689.5 C1019,689 1014,689 1009.8,688.7 C1006,687 1004,685 1003,682.7 Z"/>
<circle cx="1028.5" cy="667.4" r="9"/>
<rect x="998" y="650" width="12" height="7" rx="2" transform="rotate(20 1004 653.5)"/>
</g>
<g stroke="#c4c4c4" stroke-width="0.5">
<use xlink:href="#chairset" x="1298" y="329"/>
<use xlink:href="#chairset" x="1302" y="551"/>
<use xlink:href="#chairset" x="1297" y="776"/>
</g>
</svg>
</body></html>
